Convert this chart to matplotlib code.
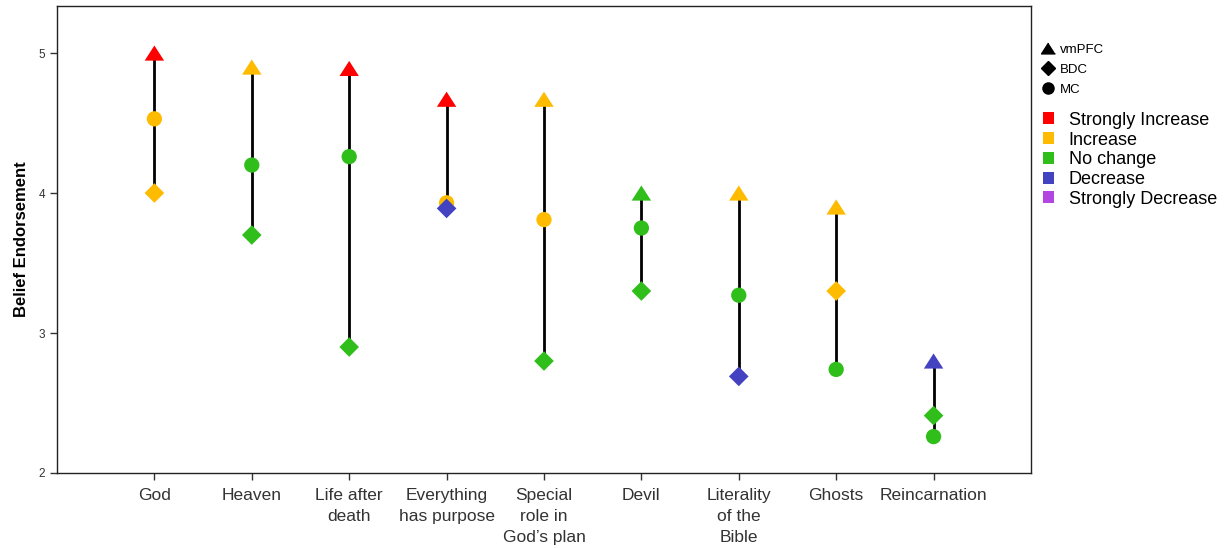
import numpy as np
import matplotlib.pyplot as plt
from matplotlib.lines import Line2D
from matplotlib.patches import Patch

plt.rcParams['font.family'] = ['Liberation Sans', 'DejaVu Sans']

# =========================
# Data
# =========================
beliefs = ["God", "Heaven", "Life after\ndeath", "Everything\nhas purpose",
           "Special\nrole in\nGod\u2019s plan", "Devil", "Literality\nof the\nBible",
           "Ghosts", "Reincarnation"]

vmpfc = [5.00, 4.90, 4.89, 4.67, 4.67, 4.00, 4.00, 3.90, 2.80]
bdc = [4.00, 3.70, 2.90, 3.89, 2.80, 3.30, 2.69, 3.30, 2.41]
mc = [4.53, 4.20, 4.26, 3.93, 3.81, 3.75, 3.27, 2.74, 2.26]

# change category per point
vmpfc_cat = ["SI", "I", "SI", "SI", "I", "N", "I", "I", "D"]
bdc_cat = ["I", "N", "N", "D", "N", "N", "D", "I", "N"]
mc_cat = ["I", "N", "N", "I", "I", "N", "N", "N", "N"]

cat_labels = ["Strongly Increase", "Increase", "No change", "Decrease", "Strongly Decrease"]
cat_keys = ["SI", "I", "N", "D", "SD"]
cat_colors = {"SI": "#FF0000", "I": "#FFBB00", "N": "#2FBE1A",
              "D": "#4343C2", "SD": "#B146E0"}

# wide, flat triangle like in the original figure
tri = [(0, 0.78), (-1, -0.78), (1, -0.78)]

# =========================
# Plot
# =========================
fig = plt.figure(figsize=(12.31, 5.48), dpi=100)
ax = fig.add_axes([0.0463, 0.1369, 0.7912, 0.8521])

x = np.arange(1, len(beliefs) + 1)
lo = np.minimum(np.minimum(vmpfc, bdc), mc)
hi = np.maximum(np.maximum(vmpfc, bdc), mc)
ax.vlines(x, lo, hi, colors="black", linewidth=2.0, zorder=1)

ax.scatter(x, mc, marker="o", s=11**2, c=[cat_colors[c] for c in mc_cat],
           edgecolors="none", zorder=2)
ax.scatter(x, bdc, marker="D", s=10**2, c=[cat_colors[c] for c in bdc_cat],
           edgecolors="none", zorder=3)
ax.scatter(x, vmpfc, marker=tri, s=14**2, c=[cat_colors[c] for c in vmpfc_cat],
           edgecolors="none", zorder=4)

ax.set_xlim(0, 10)
ax.set_ylim(2, 5.336)
ax.set_xticks(x)
ax.set_xticklabels(beliefs, fontsize=12.5, color="#222222", linespacing=1.47)
ax.set_yticks([2, 3, 4, 5])
ax.tick_params(axis="y", labelsize=8.5, length=5, width=1, colors="#333333")
ax.tick_params(axis="x", length=5, width=1, pad=6, colors="#333333")
for s in ax.spines.values():
    s.set_linewidth(1.0)
    s.set_color("#222222")
ax.set_ylabel("Belief Endorsement", fontsize=12, fontweight="bold", labelpad=7)

# =========================
# Legends
# =========================
shape_handles = [
    Line2D([], [], marker=tri, color="black", linestyle="none", markersize=10),
    Line2D([], [], marker="D", color="black", linestyle="none", markersize=7),
    Line2D([], [], marker="o", color="black", linestyle="none", markersize=8),
]
fig.legend(shape_handles, ["vmPFC", "BDC", "MC"], loc="upper left",
           bbox_to_anchor=(0.847, 0.921), frameon=False, fontsize=9.5,
           handlelength=0.8, handletextpad=0.5, labelspacing=0.6,
           borderpad=0, borderaxespad=0)

color_handles = [Patch(facecolor=cat_colors[k], edgecolor="none") for k in cat_keys]
fig.legend(color_handles, cat_labels, loc="upper left",
           bbox_to_anchor=(0.847, 0.796), frameon=False, fontsize=13,
           handlelength=0.65, handleheight=0.65, handletextpad=0.8,
           labelspacing=0.15, borderpad=0, borderaxespad=0)

fig.savefig("out.png", dpi=100)
